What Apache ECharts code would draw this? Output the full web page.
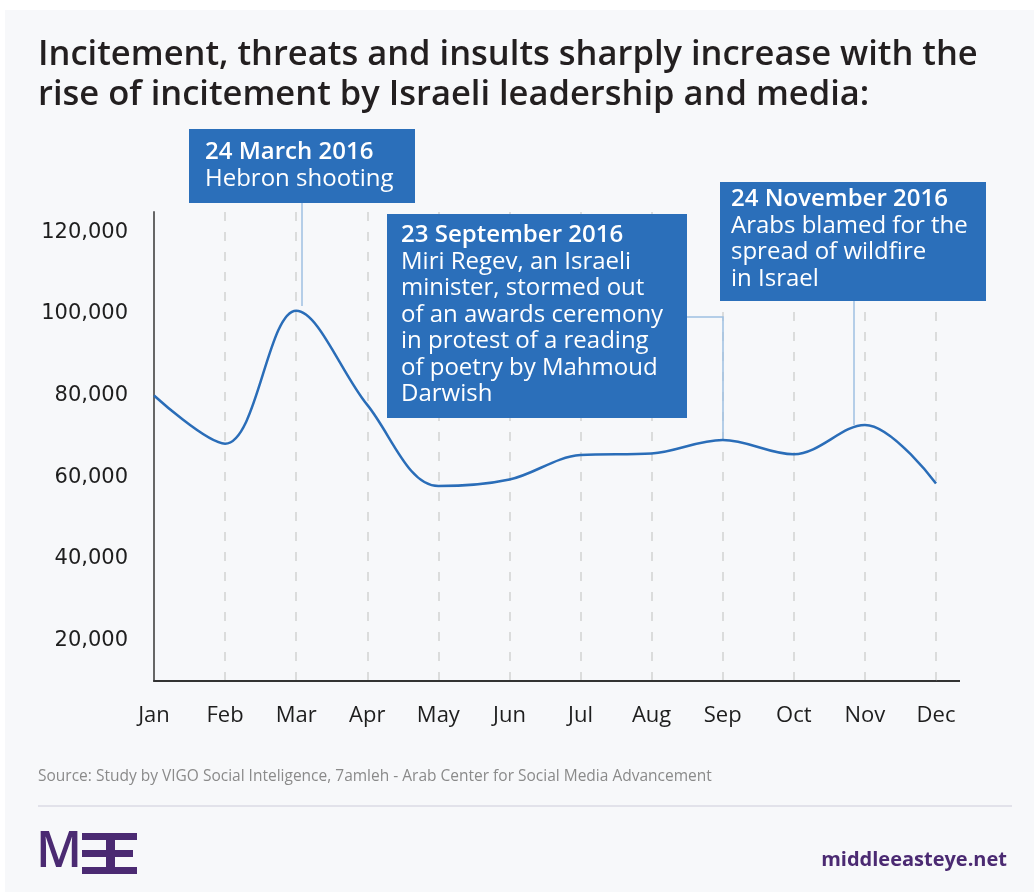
<!DOCTYPE html>
<html>
<head>
<meta charset="utf-8">
<script src="https://cdn.jsdelivr.net/npm/echarts@6/dist/echarts.min.js"></script>
<style>
html,body{margin:0;padding:0;background:#ffffff;}
#chart{width:1034px;height:892px;}
</style>
</head>
<body>
<div id="chart"></div>
<script>
var months = ['Jan','Feb','Mar','Apr','May','Jun','Jul','Aug','Sep','Oct','Nov','Dec'];
var incidents = [80000, 68200, 100800, 77700, 57800, 59400, 65400, 65800, 69100, 65600, 72800, 58400];
var yTicks = [20000, 40000, 60000, 80000, 100000, 120000];
var yTickLabels = ['20,000','40,000','60,000','80,000','100,000','120,000'];
var titleText = 'Incitement, threats and insults sharply increase with the\nrise of incitement by Israeli leadership and media:';
var sourceText = 'Source: Study by VIGO Social Inteligence, 7amleh - Arab Center for Social Media Advancement';
var notes = [
  {head: '24 March 2016', body: ['Hebron shooting']},
  {head: '23 September 2016', body: ['Miri Regev, an Israeli','minister, stormed out','of an awards ceremony','in protest of a reading','of poetry by Mahmoud','Darwish']},
  {head: '24 November 2016', body: ['Arabs blamed for the','spread of wildfire','in Israel']}
];

var BLUE = '#2a6db8';
var BOX = '#2b6fba';
var CONN = '#9fc0e2';
var PURPLE = '#4b2a72';
var FONT = '"Open Sans", "DejaVu Sans", sans-serif';

function noteText(n){
  return '{h|' + n.head + '}\n' + n.body.map(function(b){return '{b|' + b + '}';}).join('\n');
}
function noteBox(n, x, y, w, h, tx, ty){
  return {
    type: 'group',
    children: [
      {type:'rect', shape:{x:x, y:y, width:w, height:h}, style:{fill:BOX}, z:10},
      {type:'text', x:tx, y:ty, z:11, style:{
        text: noteText(n),
        rich: {
          h: {fontFamily: FONT, fontSize: 24, fontWeight: 600, fill: '#ffffff', lineHeight: 26.5},
          b: {fontFamily: FONT, fontSize: 24, fontWeight: 400, fill: '#ffffff', lineHeight: 26.5}
        }
      }}
    ]
  };
}

var chart = echarts.init(document.getElementById('chart'), null, {renderer:'canvas'});
var option = {
  backgroundColor: '#ffffff',
  animation: false,
  grid: {left: 154, top: 212, right: 98, bottom: 211, containLabel: false},
  xAxis: {
    type: 'category',
    data: months,
    boundaryGap: false,
    axisLine: {show: true, lineStyle: {color: '#333333', width: 2}},
    axisTick: {show: false},
    axisLabel: {color: '#1e1e1e', fontFamily: FONT, fontSize: 22, margin: 24},
    splitLine: {show: true, lineStyle: {color: '#d2d2d2', width: 1.5, type: [9, 11]}}
  },
  yAxis: {
    type: 'value',
    min: 10000,
    max: 125000,
    interval: 10000,
    axisLine: {show: true, lineStyle: {color: '#666666', width: 2}},
    axisTick: {show: false},
    splitLine: {show: false},
    axisLabel: {
      color: '#1e1e1e', fontFamily: '"DejaVu Sans", sans-serif', fontSize: 21, margin: 26,
      formatter: function(v){
        var i = yTicks.indexOf(v);
        return i >= 0 ? yTickLabels[i] : '';
      }
    }
  },
  series: [{
    type: 'line',
    data: incidents,
    smooth: 0.35,
    symbol: 'none',
    lineStyle: {color: BLUE, width: 2.5},
    z: 5
  }],
  graphic: [
    {type:'rect', shape:{x:5, y:10, width:1029, height:882}, style:{fill:'#f7f8fa'}, z:-100, silent:true},
    {type:'text', x:38, y:35, style:{text:titleText, fontFamily:FONT, fontSize:34.5, fontWeight:600, fill:'#231f20', lineHeight:40}},
    {type:'line', shape:{x1:936, y1:681, x2:960, y2:681}, style:{stroke:'#333333', lineWidth:2}},
    // connectors
    {type:'line', shape:{x1:302, y1:203, x2:302, y2:306}, style:{stroke:CONN, lineWidth:1.5}, z:4},
    {type:'polyline', shape:{points:[[687,317],[723,317],[723,440]]}, style:{stroke:CONN, lineWidth:1.5, fill:null}, z:4},
    {type:'line', shape:{x1:854, y1:301, x2:854, y2:425}, style:{stroke:CONN, lineWidth:1.5}, z:4},
    noteBox(notes[0], 189, 129, 226, 74, 205, 139),
    noteBox(notes[1], 387, 214, 300, 204, 401, 222),
    noteBox(notes[2], 720, 182, 266, 119, 731, 186),
    {type:'text', x:38, y:769, style:{text:sourceText, fontFamily:FONT, fontSize:15.5, fill:'#8a8a8a'}},
    {type:'line', shape:{x1:38, y1:806, x2:1012, y2:806}, style:{stroke:'#e2e2ea', lineWidth:2}},
    // MEE logo
    {type:'text', x:36, y:828, style:{text:'M', fontFamily:FONT, fontSize:50, fontWeight:600, fill:PURPLE}},
    {type:'rect', shape:{x:82, y:833, width:55, height:7}, style:{fill:PURPLE}},
    {type:'rect', shape:{x:82, y:850, width:51, height:7}, style:{fill:PURPLE}},
    {type:'rect', shape:{x:82, y:867, width:55, height:7}, style:{fill:PURPLE}},
    {type:'rect', shape:{x:106, y:833, width:9, height:41}, style:{fill:PURPLE}},
    {type:'text', x:1007, y:850, style:{text:'middleeasteye.net', fontFamily:FONT, fontSize:20, fontWeight:700, fill:PURPLE, align:'right'}}
  ]
};
chart.setOption(option);
</script>
</body>
</html>
